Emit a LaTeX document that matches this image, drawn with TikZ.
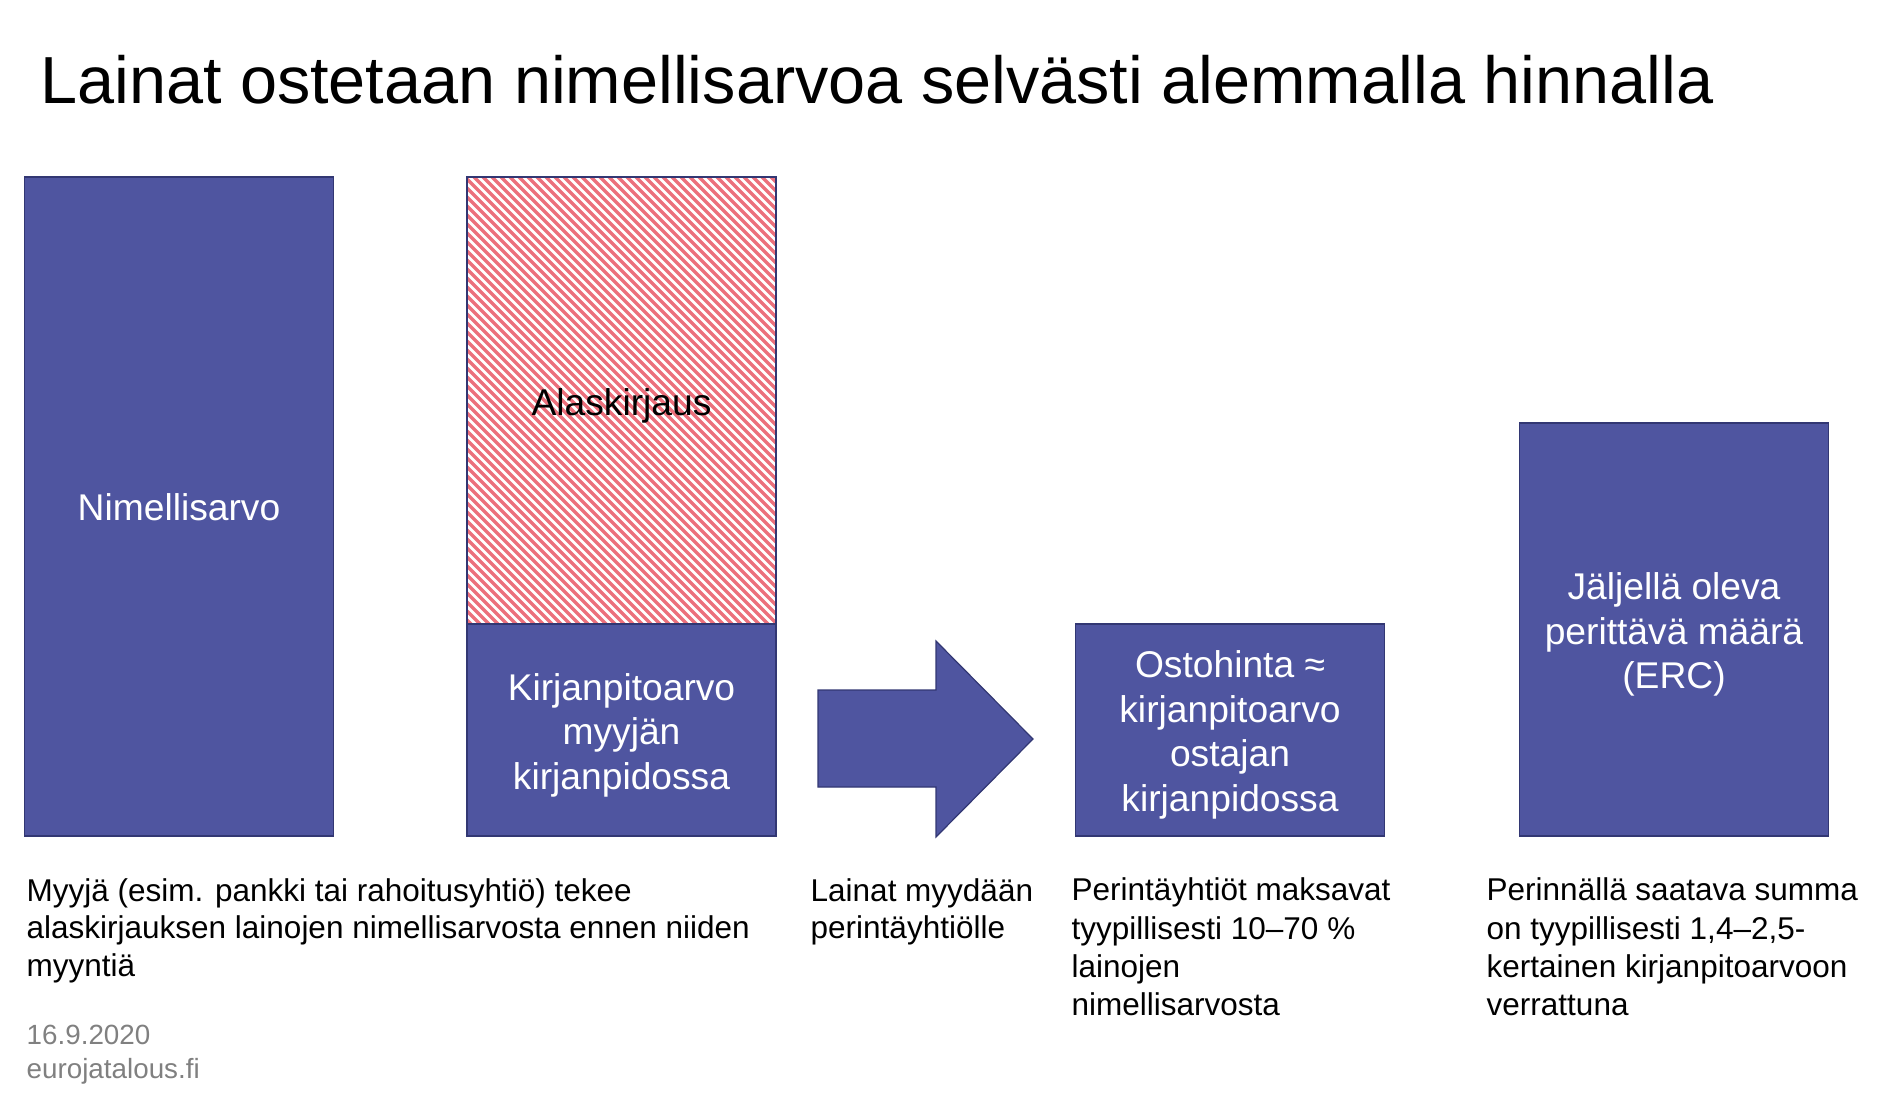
\documentclass[tikz,border=0pt]{standalone}
\usepackage{fontspec}
\setmainfont{Liberation Sans}
\definecolor{boxblue}{RGB}{79,85,160}
\definecolor{boxedge}{RGB}{50,55,115}
\definecolor{hatchred}{RGB}{236,112,124}
\definecolor{dategray}{RGB}{128,128,128}
\begin{document}
\begin{tikzpicture}[x=1pt,y=-1pt,
  bluebox/.style={draw=boxedge, line width=1.5pt, fill=boxblue,
    minimum width=309pt, inner sep=0pt},
  hatchbox/.style={draw=boxedge, line width=1.5pt,
    minimum width=309pt, inner sep=0pt},
  boxlabel/.style={align=center, inner sep=0pt, text=white, yshift=-5pt,
    font=\fontsize{37.2}{44.5}\selectfont},
  bodytext/.style={anchor=base west, align=left, inner sep=0pt,
    font=\fontsize{31.5}{37.5}\selectfont},
  datetext/.style={anchor=base west, align=left, inner sep=0pt, text=dategray,
    font=\fontsize{27.8}{34}\selectfont},
  hatchline/.style={hatchred, line width=3.2pt}
]
\useasboundingbox (0,0) rectangle (1883,1100);

% title
\node[anchor=base west, inner sep=0pt, font=\fontsize{66.6}{79}\selectfont] (title) at (40,103)
  {Lainat ostetaan nimellisarvoa selvästi alemmalla hinnalla};

% box 1
\node[bluebox, minimum height=659pt,
  label={[boxlabel, yshift=4pt]center:Nimellisarvo}] (nimelli) at (179,506.5) {};

% hatched write-down
\begin{scope}
  \clip (467,177) rectangle (776,624);
  \fill[white] (467,177) rectangle (776,624);
  \foreach \s in {-460,-451,...,780}
    \draw[hatchline] (\s,170) -- ++(470,470);
\end{scope}
\node[hatchbox, minimum height=447pt,
  label={[boxlabel, text=black]center:Alaskirjaus}] (alas) at (621.5,400.5) {};
\node[bluebox, minimum height=212pt,
  label={[boxlabel]center:Kirjanpitoarvo\\myyjän\\kirjanpidossa}] (kirja) at (621.5,730) {};

% block arrow
\coordinate (tip) at (1033,739);
\filldraw[fill=boxblue, draw=boxedge, line width=1.2pt]
  (818,690) -- (936,690) -- (936,641) -- (tip) -- (936,837) -- (936,787) -- (818,787) -- cycle;

% box 3
\node[bluebox, minimum height=212pt,
  label={[boxlabel]center:Ostohinta ≈\\kirjanpitoarvo\\ostajan\\kirjanpidossa}] (osto) at (1230,730) {};

% box 4
\node[bluebox, minimum height=413pt,
  label={[boxlabel]center:Jäljellä oleva\\perittävä määrä\\(ERC)}] (erc) at (1674,629.5) {};

% captions (anchor = baseline of last line)
\node[bodytext] (cap1) at (26.5,976) {Myyjä (esim. pankki tai rahoitusyhtiö) tekee\\alaskirjauksen lainojen nimellisarvosta ennen niiden\\myyntiä};
\node[bodytext] (cap2) at (810.5,938.5) {Lainat myydään\\perintäyhtiölle};
\node[bodytext, font=\fontsize{31.5}{38.2}\selectfont] (cap3) at (1071.5,1015.5) {Perintäyhtiöt maksavat\\tyypillisesti 10–70 \%\\lainojen\\nimellisarvosta};
\node[bodytext, font=\fontsize{31.5}{38.2}\selectfont] (cap4) at (1486.5,1015.5) {Perinnällä saatava summa\\on tyypillisesti 1,4–2,5-\\kertainen kirjanpitoarvoon\\verrattuna};

% source
\node[datetext] (date) at (26.5,1078) {16.9.2020\\eurojatalous.fi};
\end{tikzpicture}
\end{document}
